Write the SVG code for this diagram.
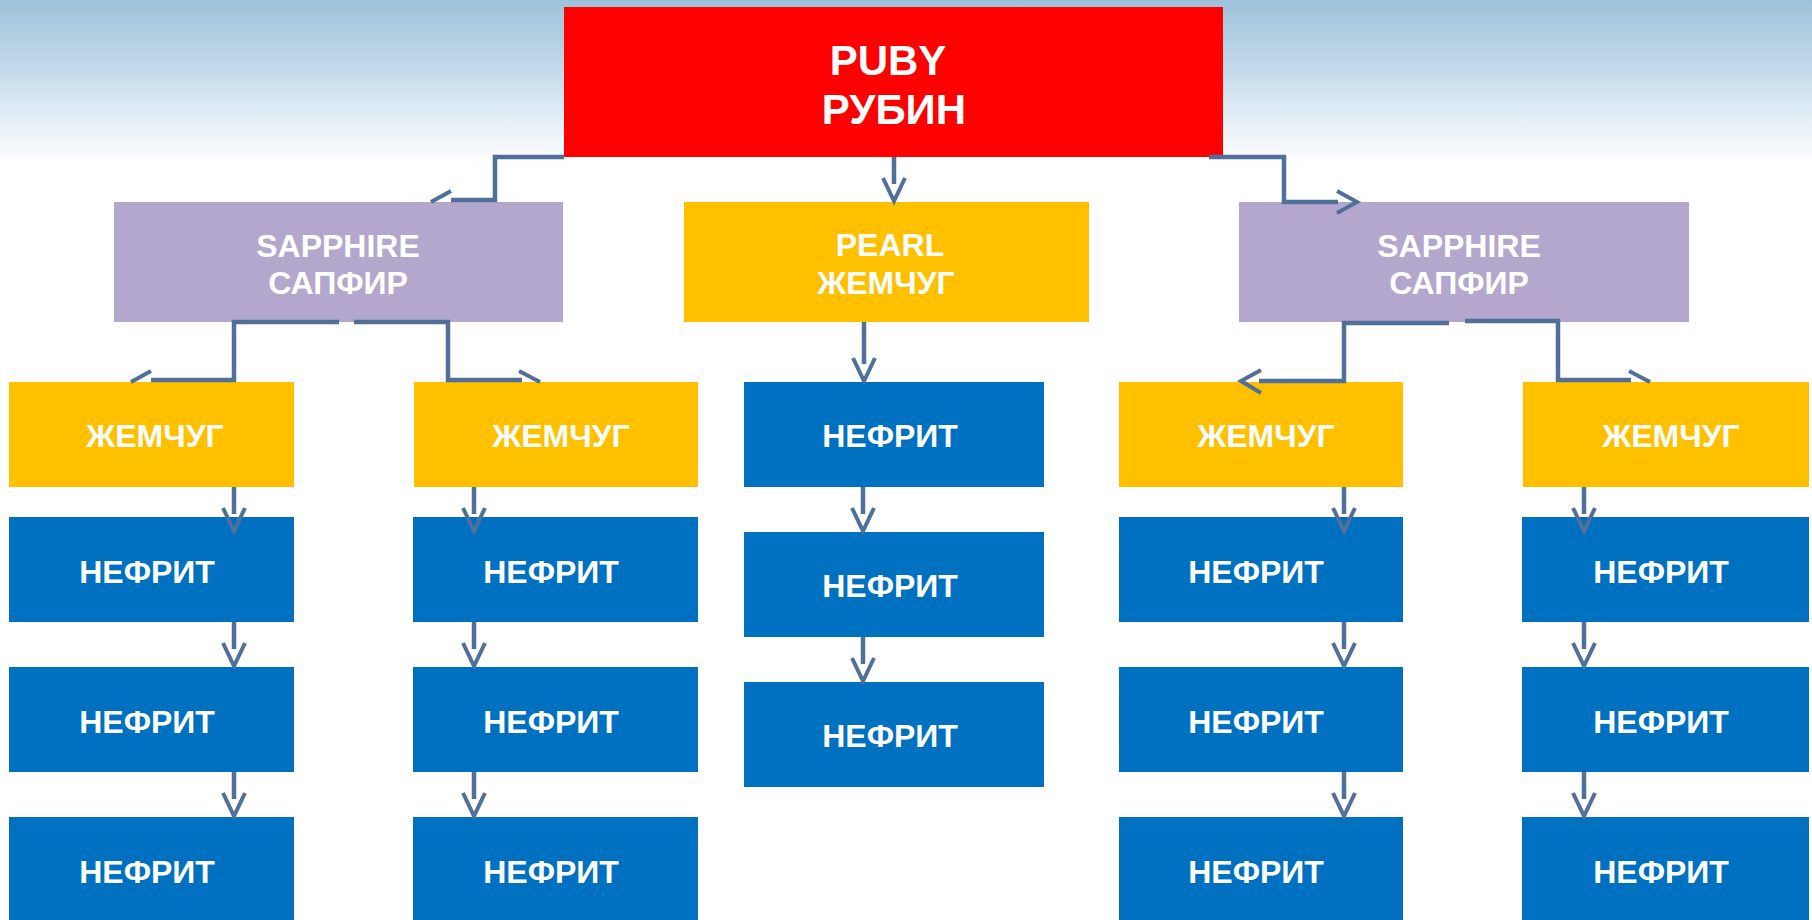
<svg xmlns="http://www.w3.org/2000/svg" width="1812" height="920" viewBox="0 0 1812 920">
<defs>
<linearGradient id="bg" x1="0" y1="0" x2="0" y2="1">
<stop offset="0" stop-color="#9dc2da"/>
<stop offset="0.4" stop-color="#c2d9e9"/>
<stop offset="0.75" stop-color="#e6f0f6"/>
<stop offset="1" stop-color="#ffffff"/>
</linearGradient>
<style>
.t{font-family:"Liberation Sans",Arial,sans-serif;font-weight:bold;fill:#ffffff;text-anchor:middle;font-size:32px}
.tr{font-size:42px}
.red{fill:#ff0000}
.sap{fill:#b4a7cd}
.pearl{fill:#ffc000}
.jade{fill:#0070c0}
.ln{fill:none;stroke:#50709a;stroke-width:4.5;stroke-linejoin:miter}
.ah{fill:none;stroke:#50709a;stroke-width:4}
</style>
</defs>
<rect x="0" y="0" width="1812" height="920" fill="#ffffff"/>
<rect x="0" y="0" width="1812" height="165" fill="url(#bg)"/>

<g id="ruby">
<rect class="red" x="564" y="7" width="659" height="150"/>
<text class="t tr" x="888" y="75">PUBY</text>
<text class="t tr" x="894" y="124">РУБИН</text>
</g>
<g id="sapphire-left">
<rect class="sap" x="114" y="202" width="449" height="120"/>
<text class="t" x="338" y="257">SAPPHIRE</text>
<text class="t" x="338" y="294">САПФИР</text>
</g>
<g id="pearl">
<rect class="pearl" x="684" y="202" width="405" height="120"/>
<text class="t" x="890" y="256">PEARL</text>
<text class="t" x="886" y="294">ЖЕМЧУГ</text>
</g>
<g id="sapphire-right">
<rect class="sap" x="1239" y="202" width="450" height="120"/>
<text class="t" x="1459" y="257">SAPPHIRE</text>
<text class="t" x="1459" y="294">САПФИР</text>
</g>

<g id="pearl-1"><rect class="pearl" x="9" y="382" width="285" height="105"/><text class="t" x="155" y="447">ЖЕМЧУГ</text></g>
<g id="pearl-2"><rect class="pearl" x="414" y="382" width="284" height="105"/><text class="t" x="561" y="447">ЖЕМЧУГ</text></g>
<g id="pearl-3"><rect class="pearl" x="1119" y="382" width="284" height="105"/><text class="t" x="1266" y="447">ЖЕМЧУГ</text></g>
<g id="pearl-4"><rect class="pearl" x="1523" y="382" width="286" height="105"/><text class="t" x="1671" y="447">ЖЕМЧУГ</text></g>

<g id="jade-c1"><rect class="jade" x="744" y="382" width="300" height="105"/><text class="t" x="890" y="447">НЕФРИТ</text></g>
<g id="jade-c2"><rect class="jade" x="744" y="532" width="300" height="105"/><text class="t" x="890" y="597">НЕФРИТ</text></g>
<g id="jade-c3"><rect class="jade" x="744" y="682" width="300" height="105"/><text class="t" x="890" y="747">НЕФРИТ</text></g>

<g id="jade-1a"><rect class="jade" x="9" y="517" width="285" height="105"/><text class="t" x="147" y="583">НЕФРИТ</text></g>
<g id="jade-1b"><rect class="jade" x="9" y="667" width="285" height="105"/><text class="t" x="147" y="733">НЕФРИТ</text></g>
<g id="jade-1c"><rect class="jade" x="9" y="817" width="285" height="103"/><text class="t" x="147" y="883">НЕФРИТ</text></g>

<g id="jade-2a"><rect class="jade" x="413" y="517" width="285" height="105"/><text class="t" x="551" y="583">НЕФРИТ</text></g>
<g id="jade-2b"><rect class="jade" x="413" y="667" width="285" height="105"/><text class="t" x="551" y="733">НЕФРИТ</text></g>
<g id="jade-2c"><rect class="jade" x="413" y="817" width="285" height="103"/><text class="t" x="551" y="883">НЕФРИТ</text></g>

<g id="jade-4a"><rect class="jade" x="1119" y="517" width="284" height="105"/><text class="t" x="1256" y="583">НЕФРИТ</text></g>
<g id="jade-4b"><rect class="jade" x="1119" y="667" width="284" height="105"/><text class="t" x="1256" y="733">НЕФРИТ</text></g>
<g id="jade-4c"><rect class="jade" x="1119" y="817" width="284" height="103"/><text class="t" x="1256" y="883">НЕФРИТ</text></g>

<g id="jade-5a"><rect class="jade" x="1522" y="517" width="287" height="105"/><text class="t" x="1661" y="583">НЕФРИТ</text></g>
<g id="jade-5b"><rect class="jade" x="1522" y="667" width="287" height="105"/><text class="t" x="1661" y="733">НЕФРИТ</text></g>
<g id="jade-5c"><rect class="jade" x="1522" y="817" width="287" height="103"/><text class="t" x="1661" y="883">НЕФРИТ</text></g>

<g id="connectors">
<!-- ruby to left sapphire -->
<path class="ln" d="M564,157 H495 V200 H451"/>
<path class="ah" d="M451,191 L431,202"/>
<!-- ruby to right sapphire -->
<path class="ln" d="M1209,157 H1284 V202 H1338"/>
<path class="ah" d="M1337,191 L1357,202 L1337,213"/>
<!-- ruby to pearl -->
<path class="ln" d="M894,157 V184"/>
<path class="ah" d="M883,178 L894,201 L905,178"/>
<!-- pearl to jade -->
<path class="ln" d="M864,322 V364"/>
<path class="ah" d="M853,358 L864,381 L875,358"/>
<!-- left sapphire children -->
<path class="ln" d="M339,322 H234 V380 H151"/>
<path class="ah" d="M151,371 L131,382"/>
<path class="ln" d="M354,322 H448 V380 H522"/>
<path class="ah" d="M519,371 L540,382"/>
<!-- right sapphire children -->
<path class="ln" d="M1449,323 H1344 V381 H1259"/>
<path class="ah" d="M1261,370 L1241,381 L1261,393"/>
<path class="ln" d="M1465,321 H1558 V380 H1631"/>
<path class="ah" d="M1629,371 L1650,382"/>
<!-- vertical chains -->
<path class="ln" d="M234,487 V514 M234,622 V649 M234,772 V799"/>
<path class="ah" d="M223,508 L234,531 L245,508 M223,643 L234,666 L245,643 M223,793 L234,816 L245,793"/>
<path class="ln" d="M474,487 V514 M474,622 V649 M474,772 V799"/>
<path class="ah" d="M463,508 L474,531 L485,508 M463,643 L474,666 L485,643 M463,793 L474,816 L485,793"/>
<path class="ln" d="M863,487 V514 M863,637 V664"/>
<path class="ah" d="M852,508 L863,531 L874,508 M852,658 L863,681 L874,658"/>
<path class="ln" d="M1344,487 V514 M1344,622 V649 M1344,772 V799"/>
<path class="ah" d="M1333,508 L1344,531 L1355,508 M1333,643 L1344,666 L1355,643 M1333,793 L1344,816 L1355,793"/>
<path class="ln" d="M1584,487 V514 M1584,622 V649 M1584,772 V799"/>
<path class="ah" d="M1573,508 L1584,531 L1595,508 M1573,643 L1584,666 L1595,643 M1573,793 L1584,816 L1595,793"/>
</g>
</svg>
